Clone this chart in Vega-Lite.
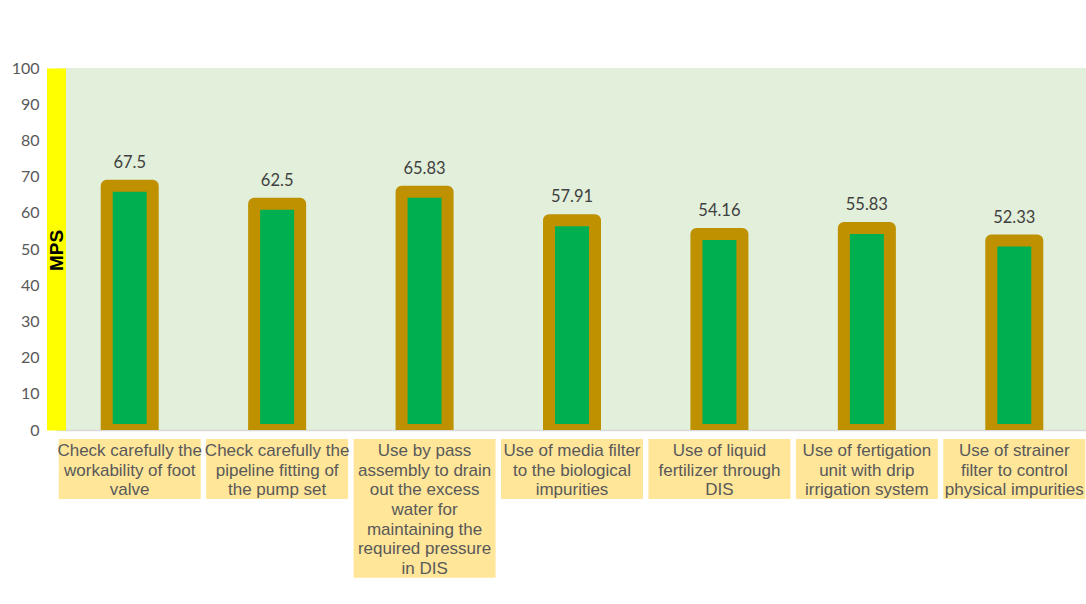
{
  "$schema": "https://vega.github.io/schema/vega-lite/v6.json",
  "width": 1032,
  "height": 362,
  "autosize": {"type": "none"},
  "padding": {"left": 56, "top": 68, "right": 0, "bottom": 174},
  "background": "white",
  "config": {
    "view": {"fill": "#E2EFDA", "stroke": null},
    "font": "Liberation Sans",
    "axisY": {
      "labelOverlap": false,
      "grid": false,
      "ticks": false,
      "tickSize": 0,
      "labelPadding": 17,
      "labelFont": "Lato",
      "labelFontSize": 16,
      "labelColor": "#595959",
      "domainColor": "#FFFF00",
      "domainWidth": 19,
      "domainCap": "butt",
      "titleFont": "Liberation Sans",
      "titleFontSize": 19,
      "titleFontWeight": "bold",
      "titleColor": "#000000",
      "titleAngle": -90,
      "titleX": 0,
      "titleY": 182,
      "titleBaseline": "middle",
      "titleAlign": "center"
    }
  },
  "data": {
    "values": [
      {"practice": "Check carefully the\nworkability of foot\nvalve", "mps": 67.5},
      {"practice": "Check carefully the\npipeline fitting of\nthe pump set", "mps": 62.5},
      {"practice": "Use by pass\nassembly to drain\nout the excess\nwater for\nmaintaining the\nrequired pressure\nin DIS", "mps": 65.83},
      {"practice": "Use of media filter\nto the biological\nimpurities", "mps": 57.91},
      {"practice": "Use of liquid\nfertilizer through\nDIS", "mps": 54.16},
      {"practice": "Use of fertigation\nunit with drip\nirrigation system", "mps": 55.83},
      {"practice": "Use of strainer\nfilter to control\nphysical impurities", "mps": 52.33}
    ]
  },
  "encoding": {
    "x": {
      "field": "practice",
      "type": "nominal",
      "sort": null,
      "scale": {"paddingInner": 0, "paddingOuter": 0},
      "axis": {"labels": false, "ticks": false, "title": null, "domainColor": "#D9D9D9", "domainWidth": 1.5}
    }
  },
  "layer": [
    {
      "mark": {"type": "bar", "width": 46, "fill": "#00B050", "stroke": "#BF9000", "strokeWidth": 12, "strokeJoin": "round", "clip": true},
      "encoding": {
        "y": {
          "field": "mps",
          "type": "quantitative",
          "scale": {"domain": [0, 100], "nice": false},
          "axis": {"title": "MPS", "values": [0, 10, 20, 30, 40, 50, 60, 70, 80, 90, 100]}
        }
      }
    },
    {
      "mark": {"type": "text", "baseline": "alphabetic", "dy": -18, "font": "Lato", "fontSize": 16.5, "color": "#404040"},
      "encoding": {
        "y": {"field": "mps", "type": "quantitative", "axis": {"title": "MPS", "values": [0, 10, 20, 30, 40, 50, 60, 70, 80, 90, 100]}},
        "text": {"field": "mps", "type": "nominal"}
      }
    },
    {
      "transform": [
        {"calculate": "length(split(datum.practice, '\\n'))", "as": "nl"},
        {"calculate": "-2.49", "as": "yt"},
        {"calculate": "-2.49 - (datum.nl * 19.7 + 0.8) / 3.62", "as": "yb"}
      ],
      "mark": {"type": "bar", "width": 142, "color": "#FFE699"},
      "encoding": {
        "y": {"field": "yb", "type": "quantitative", "axis": {"title": "MPS", "values": [0, 10, 20, 30, 40, 50, 60, 70, 80, 90, 100]}},
        "y2": {"field": "yt"}
      }
    },
    {
      "transform": [
        {"calculate": "-3.55", "as": "yl"}
      ],
      "mark": {"type": "text", "lineBreak": "\n", "baseline": "top", "align": "center", "font": "Liberation Sans", "fontSize": 17, "lineHeight": 19.7, "color": "#595959"},
      "encoding": {
        "y": {"field": "yl", "type": "quantitative", "axis": {"title": "MPS", "values": [0, 10, 20, 30, 40, 50, 60, 70, 80, 90, 100]}},
        "text": {"field": "practice", "type": "nominal"}
      }
    }
  ]
}
